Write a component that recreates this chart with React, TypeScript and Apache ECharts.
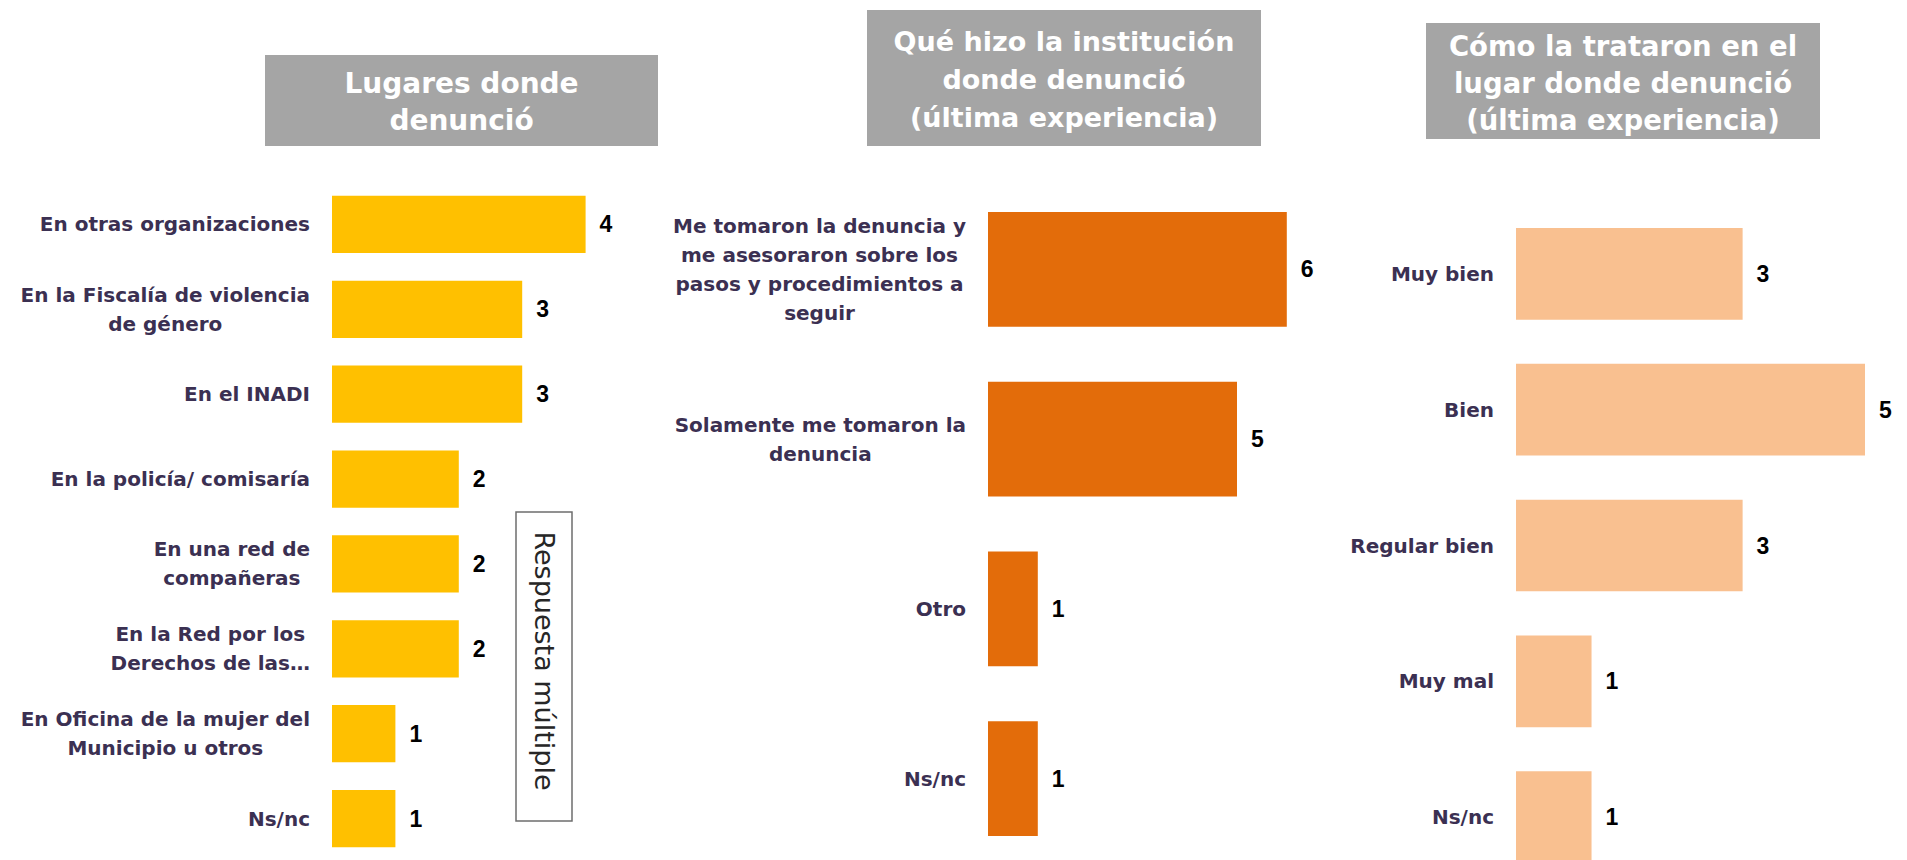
import React, { useEffect, useRef } from "react";
import * as echarts from "echarts";

// ---------- data ----------
const lugaresCats = [
  "En otras organizaciones",
  "En la Fiscalía de violencia\nde género",
  "En el INADI",
  "En la policía/ comisaría",
  "En una red de\ncompañeras",
  "En la Red por los\nDerechos de las…",
  "En Oficina de la mujer del\nMunicipio u otros",
  "Ns/nc",
];
const lugaresVals = [4, 3, 3, 2, 2, 2, 1, 1];

const institucionCats = [
  "Me tomaron la denuncia y\nme asesoraron sobre los\npasos y procedimientos a\nseguir",
  "Solamente me tomaron la\ndenuncia",
  "Otro",
  "Ns/nc",
];
const institucionVals = [6, 5, 1, 1];

const tratoCats = ["Muy bien", "Bien", "Regular bien", "Muy mal", "Ns/nc"];
const tratoVals = [3, 5, 3, 1, 1];

const titles = [
  "Lugares donde\ndenunció",
  "Qué hizo la institución\ndonde denunció\n(última experiencia)",
  "Cómo la trataron en el\nlugar donde denunció\n(última experiencia)",
];
const noteText = "Respuesta múltiple";

// ---------- styles ----------
const LABEL_FONT = "'DejaVu Sans', 'Noto Sans', sans-serif";
const NUM_FONT = "'Liberation Sans Narrow', 'Liberation Sans', Arial, sans-serif";
const LABEL_COLOR = "#3b3052";
const TITLE_BG = "#a5a5a5";

function catAxis(gridIndex: number, data: string[]) {
  return {
    type: "category",
    gridIndex,
    data,
    inverse: true,
    axisLine: { show: false },
    axisTick: { show: false },
    splitLine: { show: false },
    axisLabel: {
      margin: 22,
      formatter: (v: string) =>
        v
          .split("\n")
          .map((l) => `{c|${l}}`)
          .join("\n"),
      rich: {
        c: {
          align: "center",
          fontSize: 20,
          lineHeight: 29,
          fontWeight: "bold",
          fontFamily: LABEL_FONT,
          color: LABEL_COLOR,
        },
      },
    },
  };
}

function barSeries(idx: number, data: number[], color: string) {
  return {
    type: "bar",
    xAxisIndex: idx,
    yAxisIndex: idx,
    data,
    clip: true,
    barCategoryGap: "32.5%",
    itemStyle: { color },
    label: {
      show: true,
      position: "right",
      distance: 14,
      fontSize: 23,
      fontWeight: "bold",
      fontFamily: NUM_FONT,
      color: "#000",
    },
  };
}

function titleBox(
  x: number,
  y: number,
  w: number,
  h: number,
  cy: number,
  text: string,
  fontSize: number,
  fontWeight: string,
  lineHeight: number
) {
  return {
    type: "group",
    children: [
      { type: "rect", shape: { x, y, width: w, height: h }, style: { fill: TITLE_BG } },
      {
        type: "text",
        x: x + w / 2,
        y: cy,
        style: {
          text,
          fill: "#ffffff",
          fontSize,
          fontWeight,
          fontFamily: LABEL_FONT,
          lineHeight,
          textAlign: "center",
          textVerticalAlign: "middle",
        },
      },
    ],
  };
}

export default function App() {
  const ref = useRef<HTMLDivElement>(null);

  useEffect(() => {
    if (!ref.current) return;
    const chart = echarts.init(ref.current, undefined, { renderer: "svg" });
    const option = {
      animation: false,
      backgroundColor: "#ffffff",
      grid: [
        { left: 332, top: 182, width: 380.4, height: 679, outerBoundsMode: "none" },
        { left: 988, top: 184.5, width: 298.8, height: 679, outerBoundsMode: "none" },
        { left: 1516, top: 206, width: 349, height: 679, outerBoundsMode: "none" },
      ],
      xAxis: [
        { type: "value", gridIndex: 0, min: 0, max: 6, show: false },
        { type: "value", gridIndex: 1, min: 0, max: 6, show: false },
        { type: "value", gridIndex: 2, min: 0, max: 4.62, show: false },
      ],
      yAxis: [
        catAxis(0, lugaresCats),
        catAxis(1, institucionCats),
        catAxis(2, tratoCats),
      ],
      series: [
        barSeries(0, lugaresVals, "#ffc000"),
        barSeries(1, institucionVals, "#e36c0a"),
        barSeries(2, tratoVals, "#f9c090"),
      ],
      graphic: [
        titleBox(265, 55, 393, 91, 101.5, titles[0], 28, "bold", 37),
        titleBox(867, 10, 394, 136, 79, titles[1], 27, "bold", 38),
        titleBox(1426, 23, 394, 116, 83, titles[2], 27.5, "bold", 36.7),
        {
          type: "rect",
          shape: { x: 516, y: 512, width: 56, height: 309 },
          style: { fill: "none", stroke: "#6e6e6e", lineWidth: 1.5 },
        },
        {
          type: "text",
          x: 544,
          y: 661,
          rotation: -Math.PI / 2,
          style: {
            text: noteText,
            fill: "#262626",
            fontSize: 27,
            fontFamily: LABEL_FONT,
            textAlign: "center",
            textVerticalAlign: "middle",
          },
        },
      ],
    };
    chart.setOption(option as any);
    return () => chart.dispose();
  }, []);

  return (
    <div
      ref={ref}
      style={{ position: "fixed", left: 0, top: 0, width: 1907, height: 860, background: "#fff" }}
    />
  );
}
